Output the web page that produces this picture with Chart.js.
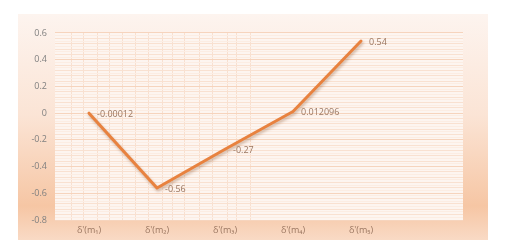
<!DOCTYPE html>
<html>
<head>
<meta charset="utf-8">
<script src="https://cdn.jsdelivr.net/npm/chart.js@4/dist/chart.umd.min.js"></script>
<style>
html,body{margin:0;padding:0;background:#ffffff;}
#wrap{width:511px;height:248px;}
</style>
</head>
<body>
<div id="wrap"><canvas id="c" width="511" height="248"></canvas></div>
<script>
const categories = ["δ'(m₁)", "δ'(m₂)", "δ'(m₃)", "δ'(m₄)", "δ'(m₅)", ""];
const values = [-0.00012, -0.56, -0.27, 0.012096, 0.54, null];
const valueLabels = ["-0.00012", "-0.56", "-0.27", "0.012096", "0.54", ""];
const yTickLabels = ["-0.8", "-0.6", "-0.4", "-0.2", "0", "0.2", "0.4", "0.6"];
const verticalGridAt = [0.24,0.42,0.62,0.8,0.99,1.18,1.37,1.58,1.73,1.91,2.12,2.32,2.53,2.67,2.88];

const panelPlugin = {
  id: 'panel',
  beforeDraw(chart) {
    const ctx = chart.ctx;
    const x0 = 18, y0 = 14, x1 = 488, y1 = 240;
    ctx.save();
    const g = ctx.createLinearGradient(0, y0, 0, y1);
    g.addColorStop(0, '#fdf4ef');
    g.addColorStop(0.45, '#fbe4d5');
    g.addColorStop(0.85, '#f6c6a4');
    g.addColorStop(1, '#f9dac5');
    ctx.fillStyle = g;
    ctx.fillRect(x0, y0, x1 - x0, y1 - y0);
    const a = chart.chartArea;
    ctx.fillStyle = '#fdf5f0';
    ctx.fillRect(a.left, a.top, a.right - a.left, a.bottom - a.top);
    ctx.restore();
  }
};

const labelPlugin = {
  id: 'vlabels',
  afterDatasetsDraw(chart) {
    const ctx = chart.ctx;
    const meta = chart.getDatasetMeta(0);
    ctx.save();
    ctx.font = '9px "Open Sans", sans-serif';
    ctx.fillStyle = '#9a7660';
    ctx.textAlign = 'left';
    ctx.textBaseline = 'middle';
    meta.data.forEach((pt, i) => {
      if (values[i] === null) return;
      ctx.fillText(valueLabels[i], pt.x + 8, pt.y + 1);
    });
    ctx.restore();
  }
};

const shadowPlugin = {
  id: 'shadow',
  beforeDatasetsDraw(chart) {
    const ctx = chart.ctx;
    ctx.save();
    ctx.shadowColor = 'rgba(120,60,20,0.35)';
    ctx.shadowBlur = 3;
    ctx.shadowOffsetX = 1;
    ctx.shadowOffsetY = 2;
  },
  afterDatasetsDraw(chart) {
    chart.ctx.restore();
  }
};

new Chart(document.getElementById('c'), {
  type: 'line',
  data: {
    labels: categories,
    datasets: [{
      data: values,
      borderColor: '#e8823f',
      borderWidth: 3,
      pointRadius: 0,
      tension: 0,
      fill: false,
      borderCapStyle: 'round',
      borderJoinStyle: 'round'
    }]
  },
  options: {
    responsive: false,
    animation: false,
    devicePixelRatio: 1,
    layout: { padding: { left: 18, right: 48, top: 33, bottom: 8 } },
    plugins: { legend: { display: false }, tooltip: { enabled: false } },
    scales: {
      x: {
        type: 'category',
        offset: true,
        grid: { display: false, drawTicks: false },
        border: { display: false },
        ticks: {
          color: '#9a7660',
          font: { size: 9, family: '"Open Sans", sans-serif' },
          padding: 5,
          maxRotation: 0,
          autoSkip: false
        },
        afterFit(s) { s.height = 20; }
      },
      x2: {
        type: 'linear',
        position: 'top',
        min: 0, max: 6,
        grid: { color: '#f8e0d0', lineWidth: 1, drawTicks: false },
        border: { display: false },
        ticks: { display: false },
        afterBuildTicks(s) { s.ticks = verticalGridAt.map(v => ({ value: v })); },
        afterFit(s) { s.height = 0; }
      },
      y: {
        min: -0.8, max: 0.6,
        border: { display: false },
        grid: {
          drawTicks: false,
          lineWidth: 1,
          color(ctx) {
            const i = ctx.index;
            if (i % 10 === 0) return '#f6d4bd';
            return i % 2 === 0 ? '#f9e1d1' : '#fcede3';
          }
        },
        afterBuildTicks(s) {
          const t = [];
          for (let i = 0; i <= 70; i++) t.push({ value: -0.8 + i * 0.02 });
          s.ticks = t;
        },
        ticks: {
          autoSkip: false,
          color: '#808080',
          font: { size: 9, family: '"Open Sans", sans-serif' },
          padding: 8,
          callback(v, i) { return i % 10 === 0 ? yTickLabels[i / 10] : ''; }
        },
        afterFit(s) { s.width = 37; }
      }
    }
  },
  plugins: [panelPlugin, shadowPlugin, labelPlugin]
});
</script>
</body>
</html>
